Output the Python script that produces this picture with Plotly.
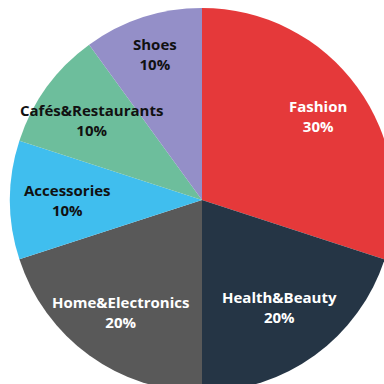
import math
import plotly.graph_objects as go

labels = ["Fashion", "Health&Beauty", "Home&Electronics", "Accessories", "Cafés&Restaurants", "Shoes"]
values = [30, 20, 20, 10, 10, 10]
colors = ["#E5393A", "#253545", "#595959", "#40BEEE", "#6DBE9C", "#948FC8"]
text_colors = ["white", "white", "white", "#111111", "#111111", "#111111"]
label_radius = [0.745, 0.69, 0.72, 0.70, 0.71, 0.80]  # fraction of pie radius

W, H = 404, 400
R_PX = 192

fig = go.Figure(go.Pie(
    labels=labels,
    values=values,
    sort=False,
    direction="clockwise",
    rotation=0,
    marker=dict(colors=colors, line=dict(width=0)),
    textinfo="none",
    domain=dict(x=[0, 1], y=[0.02, 0.98]),
    showlegend=False,
    hoverinfo="label+percent",
))

total = sum(values)
cum = 0
for lab, v, tc, rf in zip(labels, values, text_colors, label_radius):
    mid = (cum + v / 2) / total * 2 * math.pi
    cum += v
    x = 0.5 + rf * R_PX * math.sin(mid) / W
    y = 0.5 + rf * R_PX * math.cos(mid) / H
    fig.add_annotation(
        x=x, y=y, xref="paper", yref="paper",
        text=f"<b>{lab}</b><br><b>{round(v / total * 100)}%</b>",
        showarrow=False,
        font=dict(family="Open Sans", size=15, color=tc),
        xanchor="center", yanchor="middle",
    )

fig.update_layout(
    width=W, height=H,
    margin=dict(l=0, r=0, t=0, b=0),
    paper_bgcolor="white",
)
fig.write_html("out.html", post_script="document.body.style.margin='0';document.body.style.overflow='hidden';document.documentElement.style.overflow='hidden';")
